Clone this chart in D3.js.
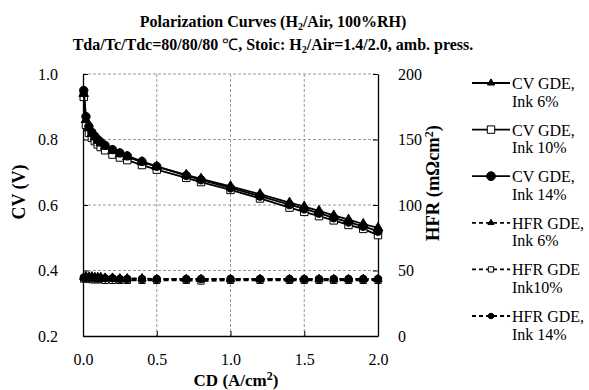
<!DOCTYPE html>
<html>
<head>
<meta charset="utf-8">
<script src="https://cdnjs.cloudflare.com/ajax/libs/d3/7.8.5/d3.min.js"></script>
<style>
  body { margin: 0; background: #fff; }
  svg text { font-family: "Liberation Serif", "Times New Roman", serif; fill: #000; }
</style>
</head>
<body>
<div id="chart"></div>
<script>
// current density (A/cm2)
var cd = [0.005, 0.02, 0.04, 0.06, 0.08, 0.10, 0.12, 0.15, 0.20, 0.25, 0.30, 0.40, 0.50,
          0.70, 0.80, 1.00, 1.20, 1.40, 1.50, 1.60, 1.70, 1.80, 1.90, 2.00];

// cell voltage (V)
var cvInk6  = [0.940, 0.860, 0.835, 0.818, 0.807, 0.797, 0.789, 0.779, 0.766, 0.756, 0.747, 0.731, 0.717,
               0.692, 0.680, 0.657, 0.633, 0.607, 0.595, 0.582, 0.568, 0.555, 0.542, 0.530];
var cvInk10 = [0.930, 0.845, 0.820, 0.805, 0.795, 0.785, 0.777, 0.767, 0.754, 0.745, 0.737, 0.722, 0.708,
               0.683, 0.670, 0.646, 0.620, 0.592, 0.579, 0.566, 0.553, 0.539, 0.527, 0.508];
var cvInk14 = [0.950, 0.870, 0.840, 0.822, 0.810, 0.800, 0.792, 0.782, 0.769, 0.759, 0.750, 0.733, 0.718,
               0.690, 0.677, 0.652, 0.627, 0.601, 0.588, 0.575, 0.561, 0.548, 0.535, 0.520];

// HFR (mOhm cm2)
var hfrInk6  = [45.0, 45.5, 45.5, 45.5, 45.0, 45.0, 45.0, 44.5, 44.5, 44.0, 44.0, 44.0, 43.5,
                43.5, 43.5, 43.5, 43.5, 43.5, 43.5, 43.5, 43.5, 43.5, 43.5, 43.5];
var hfrInk10 = [43.5, 43.5, 43.5, 43.0, 43.0, 43.0, 43.0, 42.5, 42.5, 42.5, 42.5, 42.5, 42.5,
                42.5, 42.0, 42.5, 42.5, 42.5, 42.5, 42.5, 42.5, 42.5, 42.5, 42.5];
var hfrInk14 = [44.5, 44.5, 44.5, 44.5, 44.5, 44.0, 44.0, 44.0, 44.0, 43.5, 43.5, 43.5, 43.5,
                43.5, 43.5, 43.5, 43.5, 43.5, 43.5, 43.5, 43.5, 43.5, 43.5, 43.5];

var xTicks = [0.0, 0.5, 1.0, 1.5, 2.0];
var yTicks = [0.2, 0.4, 0.6, 0.8, 1.0];
var y2Ticks = [0, 50, 100, 150, 200];

var legendNames = [["CV GDE,", "Ink 6%"], ["CV GDE,", "Ink 10%"], ["CV GDE,", "Ink 14%"],
                   ["HFR GDE,", "Ink 6%"], ["HFR GDE", "Ink10%"], ["HFR GDE,", "Ink 14%"]];

var FONT = "Liberation Serif, Times New Roman, serif";

var margin = {top: 74, right: 211, bottom: 54, left: 83}
  , W = 589, H = 390
  , width = W - margin.left - margin.right
  , height = H - margin.top - margin.bottom;

var svg = d3.select("#chart").append("svg")
  .attr("width", W)
  .attr("height", H);

var g = svg.append("g").attr("transform", "translate(" + margin.left + "," + margin.top + ")");

var x = d3.scaleLinear().domain([0, 2]).range([0, width]);
var y = d3.scaleLinear().domain([0.2, 1.0]).range([height, 0]);
var y2 = d3.scaleLinear().domain([0, 200]).range([height, 0]);

// grid
g.selectAll(".hgrid").data(yTicks.filter(function(d) { return d > 0.2; }))
  .enter().append("line")
  .attr("x1", 0).attr("x2", width)
  .attr("y1", function(d) { return y(d); }).attr("y2", function(d) { return y(d); })
  .attr("stroke", "#999").attr("stroke-width", 1).attr("stroke-dasharray", "3,2");
g.selectAll(".vgrid").data(xTicks.filter(function(d) { return d > 0 && d < 2; }))
  .enter().append("line")
  .attr("y1", 0).attr("y2", height)
  .attr("x1", function(d) { return x(d); }).attr("x2", function(d) { return x(d); })
  .attr("stroke", "#999").attr("stroke-width", 1).attr("stroke-dasharray", "3,2");

// axes
var xAxis = g.append("g").attr("transform", "translate(0," + height + ")")
  .call(d3.axisBottom(x).tickValues(xTicks).tickFormat(d3.format(".1f")).tickSizeInner(-5).tickSizeOuter(0).tickPadding(18));
var yAxis = g.append("g")
  .call(d3.axisLeft(y).tickValues(yTicks).tickFormat(d3.format(".1f")).tickSizeInner(-5).tickSizeOuter(0).tickPadding(25));
var y2Axis = g.append("g").attr("transform", "translate(" + width + ",0)")
  .call(d3.axisRight(y2).tickValues(y2Ticks).tickSizeInner(-5).tickSizeOuter(0).tickPadding(20));

[xAxis, yAxis, y2Axis].forEach(function(a) {
  a.attr("font-family", FONT).attr("font-size", 16);
  a.select(".domain").attr("stroke", "#000").attr("stroke-width", 1.3);
  a.selectAll(".tick line").attr("stroke", "#000");
  a.selectAll("text").attr("fill", "#000");
});

// series
var lineCV = function(vals) {
  return d3.line().x(function(d, i) { return x(cd[i]); }).y(function(d) { return y(d); })(vals);
};
var lineHFR = function(vals) {
  return d3.line().x(function(d, i) { return x(cd[i]); }).y(function(d) { return y2(d); })(vals);
};

var tri = d3.symbol().type(d3.symbolTriangle);
var sq = d3.symbol().type(d3.symbolSquare);
var circ = d3.symbol().type(d3.symbolCircle);

var series = [
  {vals: hfrInk10, path: lineHFR, sc: y2, dash: "5,3", sym: sq, size: 40, fill: "#fff"},
  {vals: hfrInk6,  path: lineHFR, sc: y2, dash: "5,3", sym: tri, size: 30, fill: "#000"},
  {vals: hfrInk14, path: lineHFR, sc: y2, dash: "5,3", sym: circ, size: 45, fill: "#000"},
  {vals: cvInk10, path: lineCV, sc: y, dash: null, sym: sq, size: 55, fill: "#fff"},
  {vals: cvInk6,  path: lineCV, sc: y, dash: null, sym: tri, size: 40, fill: "#000"},
  {vals: cvInk14, path: lineCV, sc: y, dash: null, sym: circ, size: 55, fill: "#000"}
];

series.forEach(function(s) {
  g.append("path")
    .attr("d", s.path(s.vals))
    .attr("fill", "none")
    .attr("stroke", "#000")
    .attr("stroke-width", 1.8)
    .attr("stroke-dasharray", s.dash);
  g.selectAll(null).data(s.vals).enter().append("path")
    .attr("d", s.sym.size(s.size))
    .attr("transform", function(d, i) { return "translate(" + x(cd[i]) + "," + s.sc(d) + ")"; })
    .attr("fill", s.fill)
    .attr("stroke", "#000")
    .attr("stroke-width", 1);
});

// titles
svg.append("text").attr("x", 273).attr("y", 27).attr("text-anchor", "middle")
  .attr("font-family", FONT).attr("font-size", 16).attr("font-weight", "bold")
  .html('Polarization Curves (H<tspan dy="3" font-size="10px">2</tspan><tspan dy="-3">/Air, 100%RH)</tspan>');
svg.append("text").attr("x", 273).attr("y", 50).attr("text-anchor", "middle")
  .attr("font-family", FONT).attr("font-size", 16).attr("font-weight", "bold")
  .html('Tda/Tc/Tdc=80/80/80 <tspan font-weight="normal">\u2103</tspan>, Stoic: H<tspan dy="3" font-size="10px">2</tspan><tspan dy="-3">/Air=1.4/2.0, amb. press.</tspan>');

svg.append("text").attr("x", 236).attr("y", 386).attr("text-anchor", "middle")
  .attr("font-family", FONT).attr("font-size", 17).attr("font-weight", "bold")
  .html('CD (A/cm<tspan dy="-6" font-size="12px">2</tspan><tspan dy="6">)</tspan>');
svg.append("text").attr("transform", "translate(25,192) rotate(-90)")
  .attr("text-anchor", "middle").attr("font-family", FONT).attr("font-size", 18).attr("font-weight", "bold")
  .text("CV (V)");
svg.append("text").attr("transform", "translate(439,183) rotate(-90)")
  .attr("text-anchor", "middle").attr("font-family", FONT).attr("font-size", 18.5).attr("font-weight", "bold")
  .html('HFR (m\u03A9cm<tspan dy="-6" font-size="12px">2</tspan><tspan dy="6">)</tspan>');

// legend
var legSyms = [
  {sym: tri, size: 22, fill: "#000", dash: null},
  {sym: sq, size: 55, fill: "#fff", dash: null},
  {sym: circ, size: 60, fill: "#000", dash: null},
  {sym: tri, size: 16, fill: "#000", dash: "4,3"},
  {sym: sq, size: 28, fill: "#fff", dash: "4,3"},
  {sym: circ, size: 24, fill: "#000", dash: "4,3"}
];
var legend = svg.append("g").attr("class", "legend");
legend.selectAll("g").data(legendNames).enter().append("g")
  .each(function(d, i) {
    var lg = d3.select(this);
    var ly = 83 + i * 46.6;
    var s = legSyms[i];
    lg.append("line").attr("x1", 472).attr("x2", 510).attr("y1", ly).attr("y2", ly)
      .attr("stroke", "#000").attr("stroke-width", 1.8).attr("stroke-dasharray", s.dash);
    lg.append("path").attr("d", s.sym.size(s.size))
      .attr("transform", "translate(491," + ly + ")")
      .attr("fill", s.fill).attr("stroke", "#000").attr("stroke-width", 1);
    lg.append("text").attr("x", 512).attr("y", ly + 6)
      .attr("font-family", FONT).attr("font-size", 16).text(d[0]);
    lg.append("text").attr("x", 512).attr("y", ly + 23.5)
      .attr("font-family", FONT).attr("font-size", 16).text(d[1]);
  });
</script>
</body>
</html>
